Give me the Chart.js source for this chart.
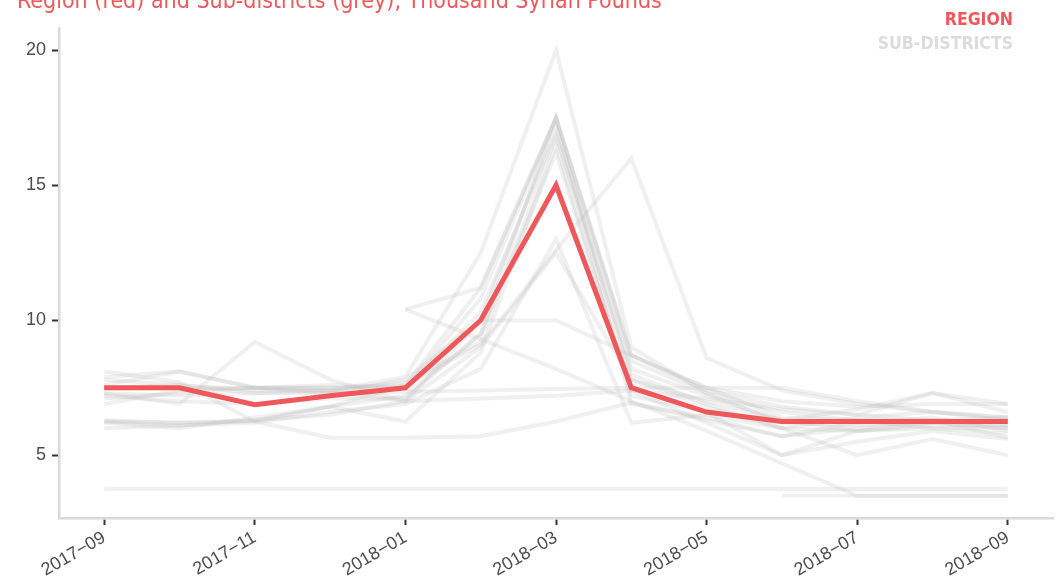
<!DOCTYPE html>
<html>
<head>
<meta charset="utf-8">
<script src="https://cdn.jsdelivr.net/npm/chart.js@4.4.1/dist/chart.umd.min.js"></script>
<style>
  html, body { margin: 0; padding: 0; background: #fff; }
  #wrap { position: relative; width: 1059px; height: 581px; }
</style>
</head>
<body>
<div id="wrap"><canvas id="priceChart"></canvas></div>
<script>
// months (x index 0..12) and the ones that get a tick label
const months = ['2017-09', '2017-10', '2017-11', '2017-12', '2018-01', '2018-02', '2018-03',
                '2018-04', '2018-05', '2018-06', '2018-07', '2018-08', '2018-09'];
const xTickIndex = [0, 2, 4, 6, 8, 10, 12];
const yTicks = [5, 10, 15, 20];

// Region average, thousand SYP
const region = [7.5, 7.5, 6.875, 7.2, 7.5, 10, 15, 7.5, 6.6, 6.25, 6.25, 6.25, 6.25];

// Sub-districts
const sd01 = [3.75, 3.75, 3.75, 3.75, 3.75, 3.75, 3.75, 3.75, 3.75, 3.75, 3.75, 3.75, 3.75];
const sd02 = [null, null, null, null, null, null, null, null, null, 3.5, 3.5, 3.5, 3.5];
const sd03 = [null, null, null, null, 10.4, 9.3, 8.2, 7.0, 5.9, 4.7, 3.5, 3.5, 3.5];
const sd04 = [7.8, 7.6, 7.3, 7.4, 7.9, 12.5, 20, 9.0, 7.3, 6.6, 6.3, 6.3, 6.1];
const sd05 = [7.5, 7.5, 7.5, 7.5, 7.5, 10.8, 17.5, 8.7, 7.5, 6.4, 6.3, 6.0, 5.8];
const sd06 = [6.9, 7.4, 7.5, 7.5, 7.6, 11.2, 17.5, 8.5, 7.3, 6.2, 6.1, 6.2, 6.3];
const sd07 = [8.1, 7.7, 6.25, 6.8, 7.2, 9.5, 17.5, 6.9, 6.4, 5.7, 6.0, 6.3, 5.65];
const sd08 = [7.5, 7.6, 7.4, 7.4, 7.7, 9.2, 16.8, 8.0, 6.9, 6.0, 6.4, 6.6, 6.4];
const sd09 = [7.1, 7.3, 7.5, 7.4, 7.0, 10.0, 17.2, 7.8, 7.0, 6.3, 5.9, 6.0, 6.0];
const sd10 = [null, null, null, null, 10.4, 11.2, 17.5, 8.7, 7.4, 6.8, 6.5, 6.3, 6.4];
const sd11 = [7.3, 6.9, 9.2, 7.8, 7.0, 9.0, 12.5, 7.8, 6.8, 6.0, 5.9, 6.2, 6.0];
const sd12 = [6.25, 6.1, 6.3, 6.8, 7.6, 9.1, 12.6, 16, 8.6, 7.4, 6.9, 6.6, 6.4];
const sd13 = [7.9, 8.1, 7.5, 7.3, 7.8, 10, 10, 8.7, 7.5, 7.0, 6.8, 6.9, 6.9];
const sd14 = [7.3, 7.2, 7.3, 7.3, 7.35, 7.4, 7.45, 7.5, 7.5, 7.5, 7.0, 6.6, 6.3];
const sd15 = [6.3, 6.2, 6.3, 6.5, 7.0, 7.1, 7.2, 7.4, 7.1, 6.7, 6.5, 7.3, 6.9];
const sd16 = [6.25, 6.2, 6.25, 5.65, 5.65, 5.7, 6.25, 6.95, 6.3, 5.7, 6.2, 6.4, 5.9];
const sd17 = [6.2, 6.0, 6.4, 6.8, 6.25, 8.8, 16.5, 7.2, 6.6, 5.0, 5.9, 6.1, 6.1];
const sd18 = [6.0, 6.1, 6.2, 6.6, 6.9, 8.2, 13.0, 6.2, 6.5, 6.0, 5.0, 5.6, 5.0];
const sd19 = [7.2, 7.0, 6.9, 7.1, 7.1, 9.5, 16.2, 7.4, 6.2, 5.0, 5.5, 5.9, 5.6];
const sd20 = [7.6, 8.1, 7.5, 7.6, 7.5, 10.3, 16.9, 8.2, 7.2, 6.3, 6.7, 7.3, 6.6];

const subDistricts = [sd01, sd02, sd03, sd04, sd05, sd06, sd07, sd08, sd09, sd10,
                      sd11, sd12, sd13, sd14, sd15, sd16, sd17, sd18, sd19, sd20];

const RED = '#EE585B';
const GREY = 'rgba(190, 190, 190, 0.23)';
const NARROW = '"Liberation Sans Narrow", "Arial Narrow", "DejaVu Sans Condensed", sans-serif';
const TICK_FONT = { family: '"Liberation Sans", Arial, sans-serif', size: 18 };

const toPoints = arr => arr.map((v, i) => ({ x: i, y: v }));

// title + text legend
const headerPlugin = {
    id: 'header',
    afterDraw(chart) {
        const ctx = chart.ctx;
        ctx.save();
        ctx.textBaseline = 'alphabetic';
        ctx.font = '23px ' + NARROW;
        ctx.fillStyle = RED;
        ctx.textAlign = 'left';
        ctx.fillText('Region (red) and Sub-districts (grey), Thousand Syrian Pounds', 17, 8);

        ctx.font = 'bold 17.5px ' + NARROW;
        ctx.textAlign = 'right';
        ctx.fillStyle = RED;
        ctx.fillText('REGION', 1013, 25);
        ctx.fillStyle = '#dcdcdc';
        ctx.fillText('SUB-DISTRICTS', 1013, 49);
        ctx.restore();
    }
};

const datasets = [{
    label: 'Region',
    data: toPoints(region),
    borderColor: RED,
    borderWidth: 5,
    pointRadius: 0,
    tension: 0,
    order: 0
}];
subDistricts.forEach((s, i) => {
    datasets.push({
        label: 'Sub-district ' + (i + 1),
        data: toPoints(s),
        borderColor: GREY,
        borderWidth: 4,
        pointRadius: 0,
        tension: 0,
        order: 1
    });
});

new Chart(document.getElementById('priceChart'), {
    type: 'line',
    data: { datasets },
    plugins: [headerPlugin],
    options: {
        responsive: true,
        maintainAspectRatio: false,
        animation: false,
        layout: { padding: { top: 28, right: 6, left: 0, bottom: 0 } },
        plugins: {
            legend: { display: false },
            tooltip: { enabled: false }
        },
        scales: {
            x: {
                type: 'linear',
                min: -0.6,
                max: 12.6,
                afterBuildTicks: scale => { scale.ticks = xTickIndex.map(v => ({ value: v })); },
                afterFit: scale => { scale.height = 63; },
                border: { color: '#d9d9d9', width: 2.5 },
                grid: { drawOnChartArea: false, tickLength: 7, tickColor: '#333', tickWidth: 2 },
                ticks: {
                    autoSkip: false,
                    minRotation: 30,
                    maxRotation: 30,
                    padding: 2,
                    color: '#4d4d4d',
                    font: TICK_FONT,
                    callback: v => months[v].replace('-', '\u2212')
                }
            },
            y: {
                min: 2.675,
                max: 20.825,
                afterBuildTicks: scale => { scale.ticks = yTicks.map(v => ({ value: v })); },
                afterFit: scale => { scale.width = 59; },
                border: { color: '#d9d9d9', width: 2.5 },
                grid: { drawOnChartArea: false, tickLength: 7, tickColor: '#333', tickWidth: 2 },
                ticks: {
                    padding: 6,
                    color: '#4d4d4d',
                    font: TICK_FONT
                }
            }
        }
    }
});
</script>
</body>
</html>
